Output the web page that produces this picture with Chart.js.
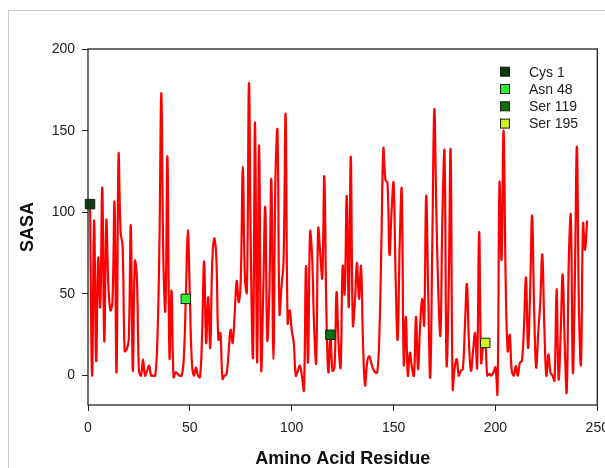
<!DOCTYPE html>
<html>
<head>
<meta charset="utf-8">
<script src="https://cdn.jsdelivr.net/npm/chart.js@4.4.1/dist/chart.umd.min.js"></script>
<style>
  html, body { margin: 0; padding: 0; background: #fff; overflow: hidden; }
  .frame { position: absolute; left: 8px; top: 10px; width: 640px; height: 500px; border: 1px solid #cacaca; }
  .wrap { position: absolute; left: 0; top: 0; width: 605px; height: 468px; }
</style>
</head>
<body>
<div class="frame"></div>
<div class="wrap"><canvas id="sasaChart" width="605" height="468"></canvas></div>
<script>
// SASA per residue, starting at residue 1 (troughs read as drawn, some dip below 0)
const firstResidue = 1;
const sasa = [
  105, 0, 95, 9, 72, 42, 115, 21, 95, 55,        // 1-10
  40, 45, 106, 2, 135, 88, 79, 15, 16, 22,       // 11-20
  92, 3, 70, 60, 3, 0, 10, 0, 3, 6,              // 21-30
  0, 0, 0, 20, 75, 173, 70, 40, 134, 11,         // 31-40
  52, -1, 2, 1, 0, 0, 10, 47, 89, 48,            // 41-50
  8, 0, 5, 0, -1, 25, 70, 20, 48, 17,            // 51-60
  70, 84, 72, 22, 26, -2, 0, 1, 14, 28,          // 61-70
  20, 38, 58, 45, 60, 128, 60, 51, 179, 70,      // 71-80
  12, 155, 8, 141, 4, 50, 103, 22, 50, 120,      // 81-90
  10, 120, 150, 38, 55, 70, 160, 32, 40, 28,     // 91-100
  20, 0, 3, 6, 0, -9, 67, 8, 88, 73,             // 101-110
  30, 8, 90, 75, 60, 122, 40, 2, 25, 3,          // 111-120
  5, 51, 20, 5, 67, 50, 110, 42, 134, 31,        // 121-130
  45, 69, 47, 67, 20, -6, 8, 12, 8, 4,           // 131-140
  2, 2, 24, 80, 139, 120, 118, 74, 100, 118,     // 141-150
  60, 22, 80, 114, 7, 36, 0, 14, 5, 0,           // 151-160
  36, 4, 30, 47, 31, 110, 50, -1, 80, 163,       // 161-170
  100, 50, 25, 100, 137, 7, 50, 138, -8, 5,      // 171-180
  10, 0, 3, 4, 30, 56, 20, 3, 15, 26,            // 181-190
  5, 88, 8, 18, 20, 0, 1, 0, 2, 5,               // 191-200
  -11, 118, 71, 150, 60, 15, 25, 3, 0, 6,        // 201-210
  0, 8, 9, 30, 60, 17, 50, 98, 40, 5,            // 211-220
  26, 45, 74, 30, 0, 13, 2, 0, -3, 53,           // 221-230
  -2, 25, 62, 20, -10, 70, 98, 2, 60, 140,       // 231-240
  40, 7, 93, 77, 95                              // 241-245
];

// highlighted residues
const markerLabels = ['Cys 1', 'Asn 48', 'Ser 119', 'Ser 195'];
const markerResidues = [1, 48, 119, 195];
const markerSasa = [105, 47, 25, 20];
const markerColors = ['#0d3d0d', '#2ef22e', '#0b720b', '#cdf122'];

const xTicks = [0, 50, 100, 150, 200, 250];
const yTicks = [0, 50, 100, 150, 200];

const fontFamily = 'Arial, "Liberation Sans", sans-serif';

const lineData = sasa.map((v, i) => ({ x: firstResidue + i, y: v }));

const datasets = markerLabels.map((label, i) => ({
    label: label,
    data: [{ x: markerResidues[i], y: markerSasa[i] }],
    backgroundColor: markerColors[i],
    borderColor: '#1a1a1a',
    borderWidth: 1,
    pointStyle: 'rect',
    pointRadius: 6.7,
    clip: false,
    order: 0
}));

datasets.push({
    label: 'SASA',
    data: lineData,
    showLine: true,
    borderColor: '#ff0000',
    borderWidth: 2.2,
    tension: 0.4,
    pointRadius: 0,
    fill: false,
    order: 10
});

// box around plot area + legend inside top right
const framePlugin = {
    id: 'framePlugin',
    afterDatasetsDraw(chart) {
        const { ctx, chartArea } = chart;
        ctx.save();
        ctx.strokeStyle = '#222';
        ctx.lineWidth = 1.3;
        ctx.strokeRect(chartArea.left, chartArea.top, chartArea.right - chartArea.left, chartArea.bottom - chartArea.top);

        ctx.font = '14px ' + fontFamily;
        ctx.textBaseline = 'middle';
        ctx.lineWidth = 1;
        markerLabels.forEach((label, i) => {
            const x = chartArea.left + 417;
            const y = chartArea.top + 22.7 + i * 17.3;
            ctx.fillStyle = markerColors[i];
            ctx.fillRect(x - 4.5, y - 4.5, 9, 9);
            ctx.strokeStyle = '#1a1a1a';
            ctx.strokeRect(x - 4.5, y - 4.5, 9, 9);
            ctx.fillStyle = '#222';
            ctx.fillText(label, x + 24, y + 1);
        });
        ctx.restore();
    }
};

const keepTicks = (list) => (scale) => {
    scale.ticks = list.map(v => ({ value: v }));
};

new Chart(document.getElementById('sasaChart'), {
    type: 'scatter',
    data: { datasets: datasets },
    options: {
        responsive: false,
        animation: false,
        devicePixelRatio: 1,
        layout: { padding: { left: 0, right: 7.5, top: 49, bottom: 0 } },
        plugins: {
            legend: { display: false },
            tooltip: { enabled: false }
        },
        scales: {
            x: {
                type: 'linear',
                min: 0,
                max: 250,
                afterBuildTicks: keepTicks(xTicks),
                afterFit(scale) {
                    scale.height = 63;
                    scale.paddingLeft = 0;
                    scale.paddingRight = 0;
                },
                border: { display: false },
                grid: { drawOnChartArea: false, drawTicks: true, tickLength: 6, color: '#222' },
                ticks: { color: '#222', padding: 8.5, maxRotation: 0, font: { family: fontFamily, size: 14 } },
                title: {
                    display: true,
                    text: 'Amino Acid Residue',
                    color: '#111',
                    padding: { top: 0, bottom: 0 },
                    font: { family: fontFamily, size: 18, weight: 'bold', lineHeight: 1.05 }
                }
            },
            y: {
                type: 'linear',
                min: -18,
                max: 200,
                afterBuildTicks: keepTicks(yTicks),
                afterFit(scale) {
                    scale.width = 88;
                    scale.paddingTop = 0;
                    scale.paddingBottom = 0;
                },
                border: { display: false },
                grid: { drawOnChartArea: false, drawTicks: true, tickLength: 6, color: '#222' },
                ticks: { color: '#222', padding: 7, font: { family: fontFamily, size: 14 } },
                title: {
                    display: true,
                    text: 'SASA',
                    color: '#111',
                    padding: { top: 17, bottom: 0 },
                    font: { family: fontFamily, size: 18, weight: 'bold', lineHeight: 1.2 }
                }
            }
        }
    },
    plugins: [framePlugin]
});
</script>
</body>
</html>
